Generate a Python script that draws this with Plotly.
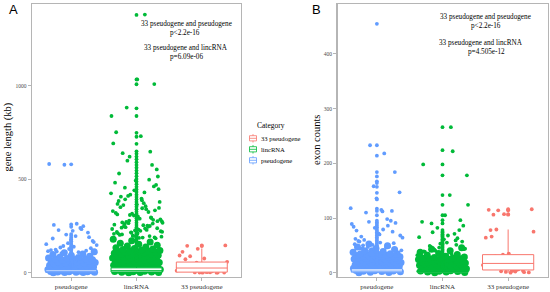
import plotly.graph_objects as go

W, H = 550, 292

categories = ["pseudogene", "lincRNA", "33 pseudogene"]
legend_order = ["33 pseudogene", "lincRNA", "pseudogene"]
colors = {"33 pseudogene": "#F8766D", "lincRNA": "#00BA38", "pseudogene": "#619CFF"}

# ---------------- Panel A: gene length (kb) ----------------
A_ticks = [0, 500, 1000]
A_pseudo_mass = [0.2, 0.7, 1.3, 2.1, 2.8, 3.8, 4.6, 5.7, 6.9, 7.9, 9.2, 10.6, 11.9, 13.4, 14.8, 16.5, 17.8, 19.6,
                 21.1, 22.5, 24.4, 25.8, 27.7, 29.1, 31.0, 32.6, 34.5, 36.0, 37.8, 39.7, 41.2, 43.3, 44.9, 46.9,
                 48.5, 50.5, 52.1, 54.2, 55.8, 57.9, 59.4, 61.5, 63.2, 65.2, 66.9, 68.9, 70.6, 72.7, 74.4, 76.5,
                 78.1, 81.3, 84.2, 88.5, 91.7, 96.8, 100.6, 106.3, 111.9]
A_pseudo_sparse = [578, 148, 262, 113, 190, 127, 582, 233, 105, 164, 139, 256, 118, 204, 153, 110, 228, 131, 176,
                   121, 249, 143, 108, 196, 124, 215, 158, 115, 240, 135, 170, 224, 183]
A_pseudo_out = [36, 40, 45, 50, 55, 61, 67, 73, 80, 87, 94, 101, 109, 117, 125, 133, 141, 150, 159, 168, 178, 188,
                198, 207, 246, 258, 580]
A_linc_mass = [0.3, 1.1, 1.7, 2.8, 3.6, 4.9, 5.8, 7.4, 8.5, 10.2, 11.3, 13.1, 14.4, 16.2, 17.5, 19.4, 20.8, 22.9,
               24.2, 26.3, 27.6, 29.8, 31.1, 33.3, 34.7, 36.9, 38.2, 40.5, 41.9, 44.0, 45.5, 47.8, 49.1, 51.5, 52.8,
               55.2, 56.5, 58.9, 60.2, 62.7, 63.9, 66.4, 67.7, 70.1, 71.4, 73.9, 75.2, 77.6, 78.9, 81.4, 82.7, 85.1,
               86.5, 88.9, 90.3, 92.6, 94.1, 96.4, 97.9, 100.2, 101.7, 104.0, 105.6, 107.8, 109.4, 111.7, 113.3,
               115.5, 117.2, 119.4, 121.1, 123.8, 126.9, 129.6, 133.8, 137.5, 142.4, 146.9, 152.3, 157.6, 164.2,
               170.8, 178.5]
A_linc_sparse = [1382, 455, 238, 1035, 312, 196, 621, 274, 388, 205, 1010, 441, 257, 229, 884, 347, 186, 531, 293,
                 214, 839, 372, 248, 470, 191, 752, 325, 265, 222, 731, 407, 283, 199, 692, 356, 244, 515, 301, 211,
                 648, 418, 267, 188, 640, 334, 226, 482, 252, 600, 379, 289, 202, 577, 316, 234, 430, 260, 553, 365,
                 218, 498, 279, 193, 397, 241, 462, 306, 208, 340, 272, 447, 231, 384, 296, 216, 425, 254, 362, 184,
                 493, 320, 246, 411, 286, 224, 351, 263, 197, 330, 236, 393, 276, 210, 368, 250, 309, 219, 345, 269,
                 189]
A_linc_out = [62, 70, 78, 86, 95, 104, 113, 122, 131, 140, 150, 160, 170, 180, 190, 200, 211, 222, 233, 244, 255,
              267, 279, 291, 303, 315, 327, 340, 353, 366, 379, 392, 405, 418, 432, 446, 460, 474, 488, 502, 517,
              532, 547, 562, 577, 592, 607, 622, 637, 650, 690, 728, 749, 839, 880, 1009, 1035, 1380]
A_33_pts = [146, 5, 72, 0.8, 128, 27, 2, 88, 40, 0.3, 112, 15, 1.5, 58, 3, 144, 31, 0.5, 92, 7, 47, 1, 76, 20,
            0.1, 54, 11, 35, 24]
A_33_out = [143, 146]
# box stats (q1, median, q3, lower whisker, upper whisker) per category order
A_q1 = [2, 4, 3]
A_med = [6, 11, 25]
A_q3 = [15, 26, 57]
A_lo = [0, 0, 0]
A_hi = [35, 60, 130]

# ---------------- Panel B: exon counts ----------------
B_ticks = [0, 100, 200, 300, 400]
B_pseudo_mass = [0.1, 0.6, 1.0, 1.6, 2.0, 2.5, 3.1, 3.5, 4.1, 4.6, 5.0, 5.6, 6.1, 6.5, 7.1, 7.6, 8.0, 8.6, 9.1,
                 9.6, 10.1, 10.6, 11.1, 11.5, 12.1, 12.6, 13.1, 13.5, 14.1, 14.6, 15.0, 15.6, 16.1, 16.5, 17.1,
                 17.6, 18.1, 18.5, 19.1, 19.6, 20.0, 20.6, 21.1, 21.5, 22.1, 22.6, 23.0, 23.6, 24.1, 24.5, 25.1,
                 25.6, 26.0, 26.6, 27.1, 27.5, 28.1, 28.6, 29.0, 29.6, 30.1, 30.5, 31.1, 31.6, 32.0, 32.6, 33.1,
                 33.5, 34.1, 34.7, 35.8, 37.2, 38.9, 40.3, 42.4, 44.1, 46.8, 49.2, 52.5]
B_pseudo_sparse = [233, 64, 112, 45, 184, 82, 52, 98, 40, 147, 70, 57, 113, 43, 89, 218, 60, 38, 136, 77, 48, 93,
                   41, 115, 66, 54, 158, 84, 46, 110, 37, 72, 58, 95, 42, 118, 79, 50, 91, 39, 62, 86, 47, 68, 55,
                   44, 75, 51]
B_pseudo_out = [17, 20, 23, 26, 29, 32, 35, 38, 41, 44, 47, 50, 53, 56, 59, 62, 65, 68, 71, 74, 77, 80, 83, 86,
                89, 92, 95, 105, 113, 117, 134, 146, 157, 164, 167, 176, 184, 214, 233, 455]
B_linc_mass = [0.1, 0.6, 1.1, 1.5, 2.1, 2.6, 3.0, 3.6, 4.1, 4.5, 5.1, 5.6, 6.0, 6.6, 7.1, 7.5, 8.1, 8.6, 9.0, 9.6,
               10.1, 10.5, 11.1, 11.6, 12.0, 12.6, 13.1, 13.5, 14.1, 14.6, 15.0, 15.6, 16.1, 16.5, 17.1, 17.6,
               18.0, 18.6, 19.1, 19.5, 20.1, 20.6, 21.0, 21.6, 22.1, 22.5, 23.1, 23.6, 24.0, 24.6, 25.1, 25.5,
               26.1, 26.6, 27.1, 27.8, 28.9, 30.2, 31.8, 33.5, 35.3, 37.6, 40.1, 42.7, 45.4]
B_linc_sparse = [266, 47, 86, 33, 198, 59, 40, 124, 68, 35, 96, 53, 31, 222, 74, 44, 105, 38, 63, 82, 32, 142, 49,
                 57, 36, 93, 71, 42, 178, 55, 30, 78, 46, 65, 34, 90, 43, 61, 39, 51]
B_linc_out = [10, 12, 14.5, 17, 19, 21.5, 24, 26, 28.5, 31, 33, 35.5, 38, 40, 42.5, 45, 47, 49.5, 52, 54, 56.5,
              59, 61, 63.5, 66, 68, 70.5, 73, 75, 78, 90, 96, 105, 124, 142, 178, 198, 224, 266]
B_33_pts = [116, 3, 66, 1, 107, 21, 5, 79, 0.5, 35, 115, 10, 2.5, 75, 4, 106, 26, 1.5, 64, 6, 114, 17, 0, 78,
            3.5, 33, 14, 2, 30]
B_33_out = [106, 107, 114, 115, 116]
B_q1 = [1, 1, 5]
B_med = [3, 2, 17]
B_q3 = [7, 4, 33]
B_lo = [0, 0, 0]
B_hi = [16, 9, 79]

annot_A = ["33 pseudogene and pseudogene", "p<2.2e-16", "33 pseudogene and lincRNA", "p=6.09e-06"]
annot_B = ["33 pseudogene and pseudogene", "p<2.2e-16", "33 pseudogene and lincRNA", "p=4.505e-12"]

SERIF = "Liberation Serif"
SANS = "Liberation Sans"
BORDER = "#B5B5B5"


def px(x):
    return x / W


def py(y):
    return 1 - y / H


def jitter(n, seed, spread=0.8):
    phi = 0.6180339887498949
    return [(((i * phi + seed) % 1.0) - 0.5) * spread for i in range(n)]


fig = go.Figure()

panels = [
    dict(base=("x", "y"), over=("x3", "y3"),
         mass={"pseudogene": A_pseudo_mass, "lincRNA": A_linc_mass, "33 pseudogene": []},
         sparse={"pseudogene": A_pseudo_sparse, "lincRNA": A_linc_sparse, "33 pseudogene": A_33_pts},
         out={"pseudogene": A_pseudo_out, "lincRNA": A_linc_out, "33 pseudogene": A_33_out},
         stats=(A_q1, A_med, A_q3, A_lo, A_hi)),
    dict(base=("x2", "y2"), over=("x4", "y4"),
         mass={"pseudogene": B_pseudo_mass, "lincRNA": B_linc_mass, "33 pseudogene": []},
         sparse={"pseudogene": B_pseudo_sparse, "lincRNA": B_linc_sparse, "33 pseudogene": B_33_pts},
         out={"pseudogene": B_pseudo_out, "lincRNA": B_linc_out, "33 pseudogene": B_33_out},
         stats=(B_q1, B_med, B_q3, B_lo, B_hi)),
]

for p in panels:
    bx, by = p["base"]
    ox, oy = p["over"]
    q1, med, q3, lo, hi = p["stats"]
    for ci, cat in enumerate(categories):
        pos = ci + 1
        col = colors[cat]
        m = p["mass"][cat]
        if m:
            jm = jitter(len(m), 0.13 + ci * 0.21, 0.74)
            fig.add_trace(go.Scatter(x=[pos + o for o in jm], y=m, mode="markers", xaxis=bx, yaxis=by,
                                     marker=dict(color=col, size=7, line=dict(width=0)),
                                     showlegend=False, hoverinfo="skip"))
        s = p["sparse"][cat]
        js = jitter(len(s), 0.37 + ci * 0.29)
        fig.add_trace(go.Scatter(x=[pos + o for o in js], y=s, mode="markers", xaxis=bx, yaxis=by,
                                 marker=dict(color=col, size=3.8, line=dict(width=0)),
                                 showlegend=False, hoverinfo="skip"))
        fig.add_trace(go.Box(x=[pos], q1=[q1[ci]], median=[med[ci]], q3=[q3[ci]],
                             lowerfence=[lo[ci]], upperfence=[hi[ci]], width=0.78,
                             fillcolor="white", line=dict(color=col, width=1), whiskerwidth=0,
                             boxpoints=False, xaxis=ox, yaxis=oy, showlegend=False, hoverinfo="skip"))
        o = p["out"][cat]
        fig.add_trace(go.Scatter(x=[pos] * len(o), y=o, mode="markers", xaxis=ox, yaxis=oy,
                                 marker=dict(color=col, size=3.8, line=dict(width=0)),
                                 showlegend=False, hoverinfo="skip"))

domA = [px(32), px(241)]
domB = [px(337.5), px(547.5)]
domY = [py(276.7), py(4)]
rangeA = [-21.4, 1438.6]
rangeB = [-7.3, 491.2]
xr = [0.4, 3.6]

xcommon = dict(range=xr, tickvals=[1, 2, 3], ticktext=categories, showline=True, mirror=True,
               linecolor=BORDER, linewidth=1.3, ticks="outside", ticklen=3, tickcolor=BORDER,
               showgrid=False, zeroline=False, tickfont=dict(family=SERIF, size=7, color="#333333"))
ycommon = dict(showline=True, mirror=True, linecolor=BORDER, linewidth=1.3, ticks="outside", ticklen=3,
               tickcolor=BORDER, showgrid=False, zeroline=False,
               tickfont=dict(family=SERIF, size=5.5, color="#4D4D4D"))

fig.update_layout(
    width=W, height=H, margin=dict(l=0, r=0, t=0, b=0),
    paper_bgcolor="white", plot_bgcolor="white", showlegend=False,
    xaxis=dict(domain=domA, anchor="y", **xcommon),
    yaxis=dict(domain=domY, anchor="x", range=rangeA, tickvals=A_ticks, **ycommon),
    xaxis2=dict(domain=domB, anchor="y2", **xcommon),
    yaxis2=dict(domain=domY, anchor="x2", range=rangeB, tickvals=B_ticks, **ycommon),
    xaxis3=dict(domain=domA, anchor="y3", overlaying="x", range=xr, visible=False),
    yaxis3=dict(domain=domY, anchor="x3", overlaying="y", range=rangeA, visible=False),
    xaxis4=dict(domain=domB, anchor="y4", overlaying="x2", range=xr, visible=False),
    yaxis4=dict(domain=domY, anchor="x4", overlaying="y2", range=rangeB, visible=False),
)

ann = []
# panel letters
ann.append(dict(text="A", x=px(13), y=py(9), font=dict(family=SANS, size=13, color="black")))
ann.append(dict(text="B", x=px(316), y=py(9), font=dict(family=SANS, size=13, color="black")))
# axis titles
ann.append(dict(text="gene length (kb)", x=px(7.5), y=py(137), textangle=-90,
                font=dict(family=SERIF, size=10.5, color="black")))
ann.append(dict(text="exon counts", x=px(317), y=py(140), textangle=-90,
                font=dict(family=SERIF, size=10.5, color="black")))
# p-value texts
for t, (xx, yy) in zip(annot_A, [(186, 24), (185, 33), (186, 47.7), (186.5, 56.7)]):
    ann.append(dict(text=t, x=px(xx), y=py(yy), font=dict(family=SERIF, size=7.2, color="black")))
for t, (xx, yy) in zip(annot_B, [(485.8, 17.3), (485.5, 26), (481, 42.7), (486, 51.7)]):
    ann.append(dict(text=t, x=px(xx), y=py(yy), font=dict(family=SERIF, size=7.2, color="black")))
# legend
ann.append(dict(text="Category", x=px(255), y=py(126), xanchor="left",
                font=dict(family=SERIF, size=7.5, color="black")))
shapes = []
for i, cat in enumerate(legend_order):
    yc = 138.3 + i * 11
    col = colors[cat]
    ann.append(dict(text=cat, x=px(259), y=py(yc), xanchor="left",
                    font=dict(family=SERIF, size=6.6, color="black")))
    shapes.append(dict(type="rect", xref="paper", yref="paper", x0=px(249.5), x1=px(256.5),
                       y0=py(yc + 2.6), y1=py(yc - 2.6), line=dict(color=col, width=0.8),
                       fillcolor="white"))
    shapes.append(dict(type="line", xref="paper", yref="paper", x0=px(249.5), x1=px(256.5),
                       y0=py(yc), y1=py(yc), line=dict(color=col, width=0.8)))
    shapes.append(dict(type="line", xref="paper", yref="paper", x0=px(253), x1=px(253),
                       y0=py(yc - 2.6), y1=py(yc - 4.2), line=dict(color=col, width=0.8)))
    shapes.append(dict(type="line", xref="paper", yref="paper", x0=px(253), x1=px(253),
                       y0=py(yc + 2.6), y1=py(yc + 4.2), line=dict(color=col, width=0.8)))

for a in ann:
    a.update(xref="paper", yref="paper", showarrow=False)
    a.setdefault("xanchor", "center")
    a.setdefault("yanchor", "middle")
fig.update_layout(annotations=ann, shapes=shapes)

fig.write_html("out.html", config={"displayModeBar": False, "staticPlot": True},
               post_script="document.body.style.margin='0';document.body.style.overflow='hidden';")
